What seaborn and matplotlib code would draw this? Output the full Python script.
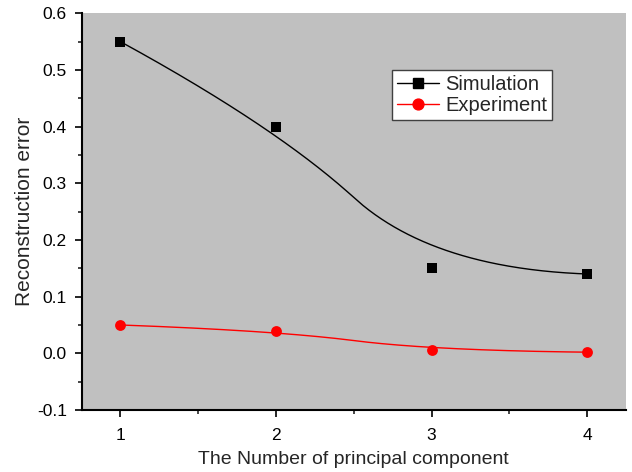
import numpy as np
import pandas as pd
import matplotlib
matplotlib.use("Agg")
import matplotlib.pyplot as plt
from matplotlib.lines import Line2D
from matplotlib.ticker import MultipleLocator
import seaborn as sns

# Reconstruction error vs. number of principal components
components = [1, 2, 3, 4]
simulation = [0.55, 0.40, 0.15, 0.14]
experiment = [0.05, 0.04, 0.005, 0.002]
y_ticks = [-0.1, 0.0, 0.1, 0.2, 0.3, 0.4, 0.5, 0.6]


def bspline_curve(xs, ys, degree=2, n=400):
    """Clamped uniform B-spline using the data points as control points."""
    ctrl = np.column_stack([xs, ys]).astype(float)
    m = len(ctrl)
    n_inner = m - degree - 1
    knots = np.concatenate([np.zeros(degree + 1),
                            np.linspace(0, 1, n_inner + 2)[1:-1],
                            np.ones(degree + 1)])
    out = []
    for u in np.linspace(0, 1, n):
        k = np.searchsorted(knots, u, side="right") - 1
        k = min(max(k, degree), m - 1)
        d = [ctrl[j + k - degree].copy() for j in range(degree + 1)]
        for r in range(1, degree + 1):
            for j in range(degree, r - 1, -1):
                i = j + k - degree
                denom = knots[i + degree + 1 - r] - knots[i]
                a = 0.0 if denom == 0 else (u - knots[i]) / denom
                d[j] = (1 - a) * d[j - 1] + a * d[j]
        out.append(d[degree])
    out = np.array(out)
    return out[:, 0], out[:, 1]


sns.set_style("ticks", {"axes.facecolor": "#C0C0C0"})
plt.rcParams["font.family"] = ["Liberation Sans", "DejaVu Sans"]

fig = plt.figure(figsize=(6.32, 4.72), dpi=100)
ax = fig.add_axes([0.129, 0.1314, 0.8615, 0.8404])

series = [("Simulation", simulation, "black", "s", 7.2),
          ("Experiment", experiment, "#FF0000", "o", 7.8)]
handles = []
for name, vals, color, marker, ms in series:
    cx, cy = bspline_curve(components, vals)
    curve = pd.DataFrame({"x": cx, "y": cy})
    sns.lineplot(data=curve, x="x", y="y", ax=ax, color=color,
                 linewidth=1.0, sort=False, estimator=None)
    pts = pd.DataFrame({"x": components, "y": vals})
    sns.scatterplot(data=pts, x="x", y="y", ax=ax, color=color,
                    marker=marker, s=ms ** 2, linewidth=0, zorder=5)
    handles.append(Line2D([], [], color=color, marker=marker,
                          markersize=ms, linewidth=1.0, label=name))

ax.set_xlim(0.75, 4.25)
ax.set_ylim(-0.1, 0.6)
ax.xaxis.set_minor_locator(MultipleLocator(0.5))
ax.yaxis.set_minor_locator(MultipleLocator(0.05))
ax.set_xticks(components)
ax.set_xticklabels([str(c) for c in components])
ax.set_yticks(y_ticks)
ax.set_yticklabels([f"{v:.1f}" for v in y_ticks])

for side in ("top", "right"):
    ax.spines[side].set_visible(False)
for side in ("left", "bottom"):
    ax.spines[side].set_linewidth(1.5)
    ax.spines[side].set_color("black")

ax.tick_params(which="major", direction="out", length=5, width=1.2,
               labelsize=12.5, colors="black")
ax.tick_params(axis="y", which="major", pad=5.5)
ax.tick_params(axis="x", which="major", pad=8)
ax.tick_params(which="minor", direction="out", length=3, width=1.2)

ax.set_xlabel("The Number of principal component", fontsize=14, labelpad=6)
ax.set_ylabel("Reconstruction error", fontsize=15, labelpad=2)

leg = ax.legend(handles=handles, loc="upper left",
                bbox_to_anchor=(0.570, 0.857), borderaxespad=0,
                fontsize=14.5, frameon=True, fancybox=False,
                handlelength=2.1, handletextpad=0.3, borderpad=0.25,
                labelspacing=0.1)
leg.get_frame().set_facecolor("white")
leg.get_frame().set_edgecolor("#404040")
leg.get_frame().set_linewidth(1.0)
leg.get_frame().set_alpha(1)

fig.savefig("out.png", dpi=100)
